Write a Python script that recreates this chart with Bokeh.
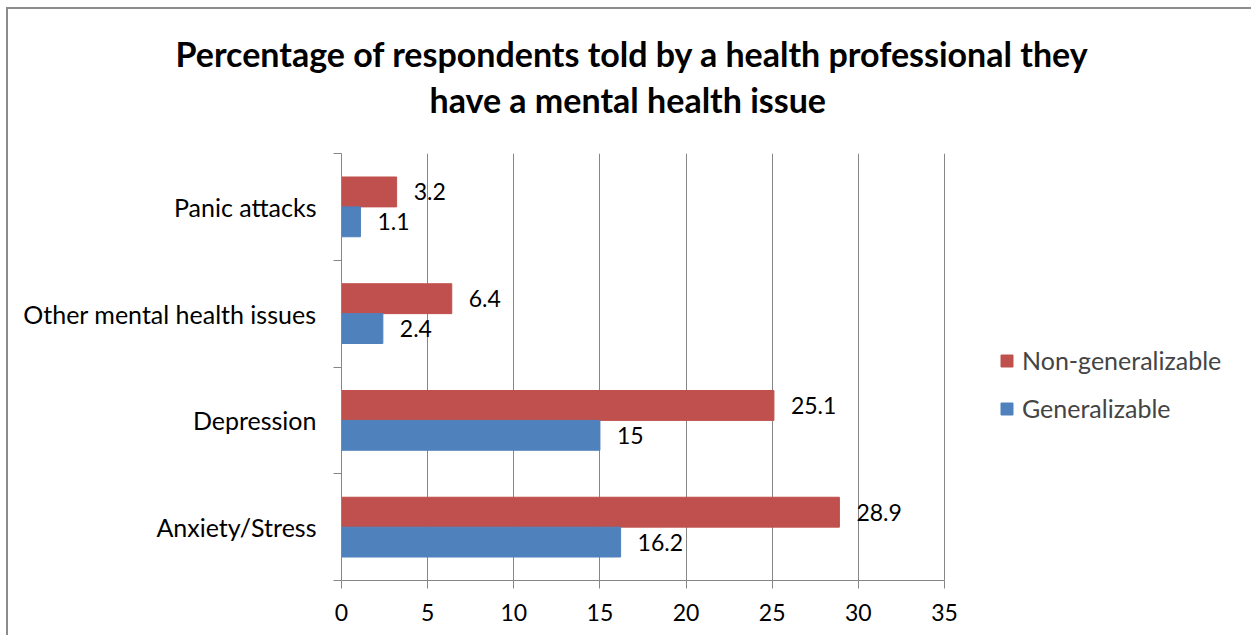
from bokeh.plotting import figure
from bokeh.models import (ColumnDataSource, Range1d, FixedTicker, Title, Legend, LegendItem)
from bokeh.core.properties import value
from bokeh.embed import file_html
from bokeh.resources import INLINE

categories = ["Anxiety/Stress", "Depression", "Other mental health issues", "Panic attacks"]
non_generalizable = [28.9, 25.1, 6.4, 3.2]
generalizable = [16.2, 15, 2.4, 1.1]
x_ticks = [0, 5, 10, 15, 20, 25, 30, 35]
title_lines = ["Percentage of respondents told by a health professional they",
               "have a mental health issue"]

FONT = "Lato"
RED = "#C0504D"
BLUE = "#4F81BD"
GRID = "#868686"

centers = [i + 0.5 for i in range(len(categories))]
off = 0.14
bar_h = 0.28

src_red = ColumnDataSource(dict(y=[c + off for c in centers], v=non_generalizable,
                                lab=[f"{v:g}" for v in non_generalizable]))
src_blue = ColumnDataSource(dict(y=[c - off for c in centers], v=generalizable,
                                 lab=[f"{v:g}" for v in generalizable]))

p = figure(frame_width=893, frame_height=427, output_backend="svg", toolbar_location=None,
           x_range=Range1d(0, 893 / (603 / 35)), y_range=Range1d(0, len(categories)),
           min_border_left=333, min_border_right=17, min_border_top=144, min_border_bottom=55)
p.styles = {"margin-left": "6px", "margin-top": "7px",
            "border-left": "2px solid #8c8c8c", "border-top": "2px solid #8c8c8c"}
p.outline_line_color = None
p.background_fill_color = "white"
p.border_fill_color = "white"

r_red = p.hbar(y="y", right="v", left=0, height=bar_h, source=src_red, color=RED)
r_blue = p.hbar(y="y", right="v", left=0, height=bar_h, source=src_blue, color=BLUE)

for s in (src_red, src_blue):
    p.text(x="v", y="y", text="lab", source=s, x_offset=17, text_baseline="middle",
           text_align="left", text_font=value(FONT), text_font_size="23px", text_color="black")

# x axis
xt = FixedTicker(ticks=x_ticks, minor_ticks=[])
p.xaxis.ticker = xt
p.xaxis.bounds = (0, 35)
p.xaxis.axis_line_color = GRID
p.xaxis.major_tick_line_color = GRID
p.xaxis.major_tick_out = 8
p.xaxis.major_tick_in = 0
p.xaxis.major_label_standoff = 15
p.xaxis.major_label_text_font = FONT
p.xaxis.major_label_text_font_size = "23px"
p.xaxis.major_label_text_color = "black"
p.xgrid.ticker = xt
p.xgrid.grid_line_color = GRID
p.ygrid.grid_line_color = None

# y axis
yt = FixedTicker(ticks=centers, minor_ticks=list(range(len(categories) + 1)))
p.yaxis.ticker = yt
p.yaxis.major_label_overrides = {c: n for c, n in zip(centers, categories)}
p.yaxis.axis_line_color = GRID
p.yaxis.major_tick_out = 0
p.yaxis.major_tick_in = 0
p.yaxis.minor_tick_line_color = GRID
p.yaxis.minor_tick_out = 8
p.yaxis.minor_tick_in = 0
p.yaxis.major_label_standoff = 17
p.yaxis.major_label_text_font = FONT
p.yaxis.major_label_text_font_size = "25px"
p.yaxis.major_label_text_color = "black"

legend = Legend(items=[LegendItem(label="Non-generalizable", renderers=[r_red]),
                       LegendItem(label="Generalizable", renderers=[r_blue])],
                location=(658, 157), glyph_width=15, glyph_height=15, label_standoff=8,
                label_height=20, spacing=18, padding=10, border_line_color=None,
                background_fill_alpha=0, label_text_font=FONT, label_text_font_size="25px")
p.add_layout(legend, "center")

t2 = Title(text=title_lines[1], align="left", offset=88, standoff=68, text_font=FONT,
           text_font_style="bold", text_font_size="34px", text_color="black")
t1 = Title(text=title_lines[0], align="left", offset=-166, standoff=-62, text_font=FONT,
           text_font_style="bold", text_font_size="34px", text_color="black")
p.add_layout(t2, "above")
p.add_layout(t1, "above")

open("out.html", "w").write(file_html(p, INLINE))
